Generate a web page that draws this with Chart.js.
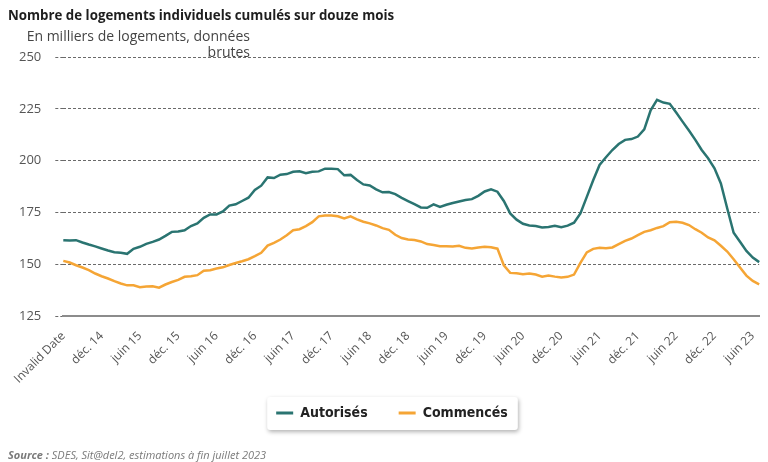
<!DOCTYPE html>
<html>
<head>
<meta charset="utf-8">
<script src="https://cdn.jsdelivr.net/npm/chart.js@4"></script>
<style>
  html, body { margin: 0; padding: 0; background: #fff; }
  #wrap { position: relative; width: 768px; height: 462px; }
</style>
</head>
<body>
<div id="wrap"><canvas id="chart" width="768" height="462"></canvas></div>
<script>
const firstLabel = "Invalid Date";
const monthNames = ["janv.", "févr.", "mars", "avr.", "mai", "juin", "juil.", "août", "sept.", "oct.", "nov.", "déc."];

// juin 2014 -> juil. 2023, un point par mois
const autorises = [
    161.6, 161.4, 161.6, 160.5, 159.5, 158.6, 157.6, 156.6, 155.8, 155.5,
    155.0, 157.4, 158.4, 159.8, 160.8, 161.9, 163.7, 165.6, 165.8, 166.4,
    168.4, 169.7, 172.4, 174.0, 174.0, 175.5, 178.3, 178.9, 180.5, 182.1,
    185.8, 187.9, 191.9, 191.6, 193.2, 193.5, 194.6, 194.8, 193.9, 194.6,
    194.8, 196.1, 196.1, 195.9, 192.9, 193.1, 190.6, 188.5, 188.0, 186.1,
    184.7, 184.8, 183.8, 182.0, 180.5, 179.0, 177.4, 177.2, 178.9, 177.6,
    178.7, 179.5, 180.3, 181.0, 181.4, 183.0, 185.1, 186.1, 185.0, 180.5,
    174.5, 171.5, 169.5, 168.7, 168.4, 167.7, 168.0, 168.5, 167.9, 168.6,
    170.0, 174.5, 182.5, 190.5, 197.9, 201.6, 205.1, 208.0, 210.0, 210.4,
    211.6, 215.1, 224.3, 229.3, 228.0, 227.4, 223.2, 218.8, 214.5, 210.0,
    205.1, 201.1, 196.3, 189.0, 176.9, 165.2, 160.8, 156.4, 153.2, 151.0
];
const commences = [
    151.6, 150.8, 149.5, 148.4, 147.1, 145.5, 144.2, 143.1, 141.8, 140.7,
    139.8, 139.8, 138.9, 139.2, 139.4, 138.7, 140.2, 141.4, 142.4, 143.9,
    144.2, 144.7, 146.8, 147.1, 147.9, 148.5, 149.6, 150.6, 151.4, 152.4,
    153.9, 155.5, 159.0, 160.3, 161.9, 164.0, 166.4, 166.9, 168.4, 170.3,
    173.1, 173.5, 173.5, 173.1, 172.1, 173.1, 171.6, 170.5, 169.7, 168.7,
    167.4, 166.6, 164.2, 162.6, 161.9, 161.7, 161.0, 159.7, 159.3, 158.7,
    158.7, 158.5, 158.9, 157.9, 157.6, 158.1, 158.4, 158.2, 157.5, 149.5,
    145.8, 145.6, 145.2, 145.5, 145.0, 144.0, 144.5, 144.0, 143.6, 143.9,
    145.0, 150.6, 155.7, 157.4, 157.9, 157.7, 158.1, 159.7, 161.3, 162.4,
    164.0, 165.6, 166.4, 167.5, 168.4, 170.3, 170.5, 170.0, 168.9, 166.9,
    165.2, 162.9, 161.5, 158.9, 156.1, 152.4, 148.4, 144.5, 141.9, 140.3
];

const labels = [firstLabel];
for (let i = 1; i < autorises.length; i++) {
    const m = (5 + i) % 12;
    const y = 14 + Math.floor((5 + i) / 12);
    labels.push(monthNames[m] + " " + y);
}

const TEAL = "#2a7471";
const ORANGE = "#f5a535";
const FONT = "'Open Sans', sans-serif";
const NARROW = "'DejaVu Sans Condensed', 'Open Sans', sans-serif";

// remonte la légende (son padding horizontal est large) et la décale un peu
const legendPlace = {
    id: "legendPlace",
    afterLayout(chart) {
        const lg = chart.legend;
        if (!lg) return;
        lg.top = 375;
        lg.bottom = lg.top + lg.height;
        lg.left += 7;
        lg.right += 7;
    }
};

// cadre blanc ombré autour de la légende (dessiné avant la légende)
const legendFrame = {
    id: "legendFrame",
    beforeDraw(chart) {
        const boxes = chart.legend && chart.legend.legendHitBoxes;
        if (!boxes || !boxes.length) return;
        const left = Math.min(...boxes.map(b => b.left)) - 9;
        const right = Math.max(...boxes.map(b => b.left + b.width)) + 10;
        const top = Math.min(...boxes.map(b => b.top)) - 9;
        const bottom = Math.max(...boxes.map(b => b.top + b.height)) + 10;
        const ctx = chart.ctx;
        ctx.save();
        ctx.shadowColor = "rgba(0,0,0,0.3)";
        ctx.shadowBlur = 4;
        ctx.shadowOffsetX = 1;
        ctx.shadowOffsetY = 2;
        ctx.fillStyle = "#fff";
        ctx.beginPath();
        ctx.roundRect(left, top, right - left, bottom - top, 3);
        ctx.fill();
        ctx.restore();
    }
};

// titre, sous-titre, source
const texts = {
    id: "texts",
    afterDraw(chart) {
        const ctx = chart.ctx;
        ctx.save();
        ctx.textBaseline = "alphabetic";
        ctx.fillStyle = "#1e1e1e";
        ctx.font = "bold 13.3px " + FONT;
        ctx.textAlign = "left";
        ctx.fillText("Nombre de logements individuels cumulés sur douze mois", 8, 20);

        ctx.fillStyle = "#444";
        ctx.font = "14px " + FONT;
        ctx.textAlign = "right";
        ctx.fillText("En milliers de logements, données", 250, 41);
        ctx.fillText("brutes", 250, 57);

        ctx.textAlign = "left";
        ctx.fillStyle = "#7a7a7a";
        ctx.font = "italic bold 11px " + FONT;
        const s = "Source : ";
        ctx.fillText(s, 8, 459);
        const w = ctx.measureText(s).width;
        ctx.font = "italic 11px " + FONT;
        ctx.fillText("SDES, Sit@del2, estimations à fin juillet 2023", 8 + w, 459);
        ctx.restore();
    }
};

new Chart(document.getElementById("chart"), {
    type: "line",
    data: {
        labels,
        datasets: [
            {
                label: "Autorisés",
                data: autorises,
                borderColor: TEAL,
                backgroundColor: TEAL,
                borderWidth: 2.5,
                pointRadius: 0,
                tension: 0
            },
            {
                label: "Commencés",
                data: commences,
                borderColor: ORANGE,
                backgroundColor: ORANGE,
                borderWidth: 2.5,
                pointRadius: 0,
                tension: 0
            }
        ]
    },
    options: {
        responsive: false,
        animation: false,
        layout: { padding: { top: 57, left: 5, right: 3, bottom: 16 } },
        plugins: {
            legend: {
                position: "bottom",
                labels: {
                    boxWidth: 17,
                    boxHeight: 3,
                    color: "#222",
                    padding: 31,
                    font: { family: NARROW, size: 14, weight: "bold" },
                    generateLabels: chart => Chart.defaults.plugins.legend.labels.generateLabels(chart)
                        .map(l => Object.assign(l, { lineWidth: 0 }))
                }
            },
            tooltip: { enabled: false }
        },
        scales: {
            x: {
                grid: { display: false },
                border: { display: true, color: "#8c8c8c", width: 2 },
                afterFit: scale => { scale.height = 75; },
                ticks: {
                    autoSkip: false,
                    maxRotation: 45,
                    minRotation: 45,
                    padding: 5,
                    color: "#555",
                    font: { family: FONT, size: 12 },
                    callback: (val, idx) => idx % 6 === 0 ? labels[idx] : null
                }
            },
            y: {
                min: 125,
                max: 250,
                ticks: {
                    stepSize: 25,
                    padding: 14,
                    color: "#555",
                    font: { family: FONT, size: 13 }
                },
                grid: {
                    color: "#6a6a6a",
                    lineWidth: 1,
                    tickLength: 8,
                    tickColor: "#6a6a6a",
                    tickBorderDash: [3, 2]
                },
                border: { display: false, dash: [3, 2] }
            }
        }
    },
    plugins: [legendPlace, legendFrame, texts]
});
</script>
</body>
</html>
